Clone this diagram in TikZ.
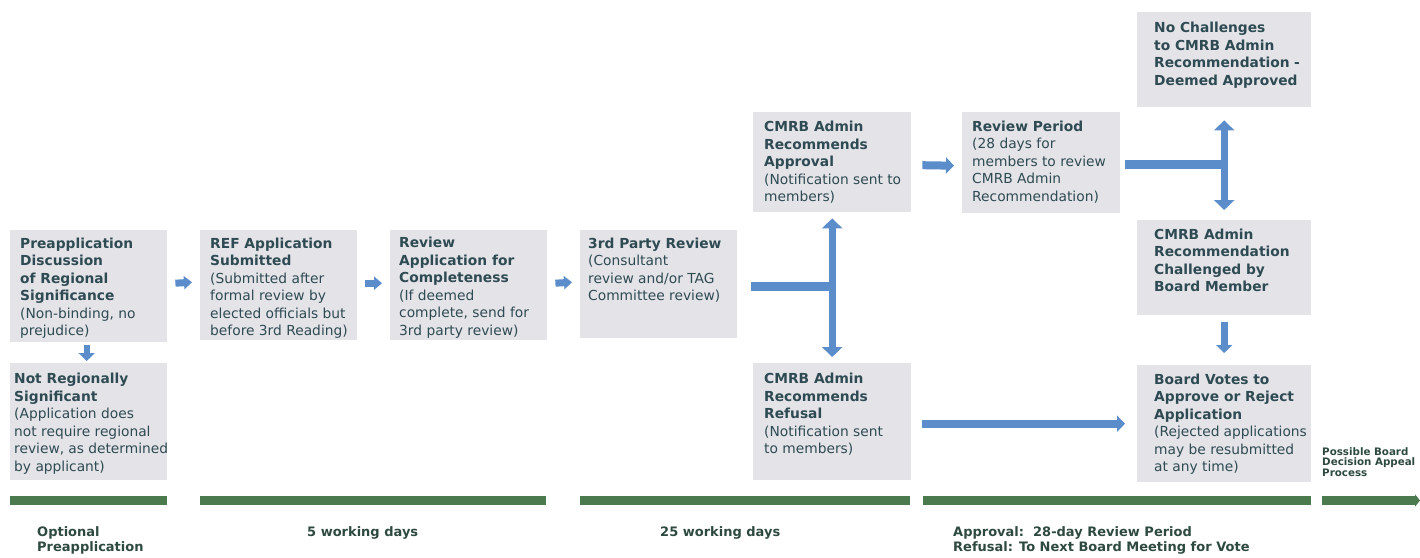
\documentclass[tikz,border=0pt]{standalone}
\usepackage{fontspec}
\setmainfont{DejaVu Sans}
\usetikzlibrary{arrows.meta}
\definecolor{boxg}{HTML}{E4E4E8}
\definecolor{txtc}{HTML}{2E4A52}
\definecolor{ablue}{HTML}{5B8DCB}
\definecolor{gbar}{HTML}{4A7A4E}
\definecolor{lblc}{HTML}{2E4A40}
\newcommand\bx[8]{\node[box, anchor=north west, inner xsep=#6pt, inner ysep=#7pt] (#1) at (#2,#3)
  {\parbox[t][\dimexpr #5pt-#7pt-#7pt\relax][t]{\dimexpr #4pt-#6pt-#6pt\relax}{\raggedright\rightskip=0pt plus 1fil minus 40pt\relax #8}};}
\begin{document}
\begin{tikzpicture}[x=1pt,y=-1pt,
  box/.style={fill=boxg, draw=none, text=txtc, font=\fontsize{13.8}{17.5}\selectfont},
  smallarr/.style={draw=ablue, line width=7pt, -{Triangle[width=13pt,length=8pt]}},
  bigarr/.style={draw=ablue, line width=8pt, -{Triangle[width=16pt,length=8pt]}},
  dblarr/.style={draw=ablue, line width=7pt, {Triangle[width=20pt,length=10pt]}-{Triangle[width=20pt,length=10pt]}},
  branch/.style={draw=ablue, line width=9pt},
  gline/.style={draw=gbar, line width=9pt},
  lbl/.style={anchor=north west, inner sep=0pt, align=left, text=lblc, font=\bfseries\fontsize{13}{15.5}\selectfont}]
\fill[white] (0,0) rectangle (1420,557);
\useasboundingbox (0,0) rectangle (1420,557);

\bx{pre}{10}{230}{157}{112}{10}{7.5}{\textbf{Preapplication\\Discussion\\of Regional\\Significance}\\(Non-binding, no\\prejudice)}
\bx{notreg}{10}{363}{157}{117}{4}{10}{\textbf{Not Regionally\\Significant}\\(Application does\\not require regional\\review, as determined\\by applicant)}
\bx{ref}{200}{230}{157}{110}{10}{7.5}{\textbf{REF Application\\Submitted}\\(Submitted after\\formal review by\\elected officials but\\before 3rd Reading)}
\bx{rev}{390}{230}{157}{110}{9}{7}{\textbf{Review\\Application for\\Completeness}\\(If deemed\\complete, send for\\3rd party review)}
\bx{third}{580}{230}{157}{108}{8}{7.5}{\textbf{3rd Party Review}\\(Consultant\\review and/or TAG\\Committee review)}
\bx{appr}{753}{112}{158}{100}{11}{9}{\textbf{CMRB Admin\\Recommends\\Approval}\\(Notification sent to\\members)}
\bx{period}{962}{112}{158}{101}{10}{8.5}{\textbf{Review Period}\\(28 days for\\members to review\\CMRB Admin\\Recommendation)}
\bx{refu}{753}{363}{158}{117}{11}{10}{\textbf{CMRB Admin\\Recommends\\Refusal}\\(Notification sent\\to members)}
\bx{nochal}{1137}{12}{174}{95}{17}{10}{\textbf{No Challenges\\to CMRB Admin\\Recommendation -\\Deemed Approved}}
\bx{chal}{1137}{220}{174}{95}{17}{8.5}{\textbf{CMRB Admin\\Recommendation\\Challenged by\\Board Member}}
\bx{votes}{1137}{365}{174}{117}{17}{8.5}{\textbf{Board Votes to\\Approve or Reject\\Application}\\(Rejected applications\\may be resubmitted\\at any time)}

\node[anchor=north west, inner sep=0pt, align=left, text=lblc, font=\bfseries\fontsize{10.3}{10.8}\selectfont] (appeal) at (1322,447) {Possible Board\\Decision Appeal\\Process};

% small arrows
\draw[smallarr] ([xshift=8pt,yshift=3pt]pre.east) -- ([xshift=-8pt,yshift=3pt]ref.west);
\draw[smallarr] ([xshift=8pt,yshift=2pt]ref.east) -- ([xshift=-8pt,yshift=2pt]rev.west);
\draw[smallarr] ([xshift=8pt,yshift=2pt]rev.east) -- ([xshift=-8pt,yshift=2pt]third.west);
\draw[draw=ablue, line width=6pt, -{Triangle[width=16pt,length=8pt]}] ([xshift=-2pt,yshift=-3pt]pre.south) -- ([xshift=-2pt,yshift=2pt]notreg.north);

% third party branch
\coordinate (j1) at (appr.south |- third.east);
\draw[branch] ([xshift=14pt,yshift=-2pt]third.east) -- ([yshift=-2pt]j1);
\draw[dblarr] ([yshift=-6pt]appr.south) -- ([yshift=6pt]refu.north);

% approval -> review period
\draw[bigarr] ([xshift=11pt,yshift=-3pt]appr.east) -- ([xshift=-8pt,yshift=-3pt]period.west);

% review period branch
\coordinate (j2) at (nochal.south |- period.east);
\draw[branch] ([xshift=5pt,yshift=-2pt]period.east) -- ([yshift=-2pt]j2);
\draw[dblarr] ([yshift=-13pt]nochal.south) -- ([yshift=10pt]chal.north);

% challenged -> votes
\draw[draw=ablue, line width=7pt, -{Triangle[width=16pt,length=8pt]}] ([yshift=-7pt]chal.south) -- ([yshift=12pt]votes.north);

% refusal -> votes
\coordinate (vin) at ([xshift=-12pt]votes.west |- refu.east);
\draw[bigarr] ([xshift=11pt,yshift=-2pt]refu.east) -- ([yshift=-2pt]vin);

% timeline bars
\coordinate (b1a) at (10,500.5);   \coordinate (b1b) at (167,500.5);
\coordinate (b2a) at (200,500.5);  \coordinate (b2b) at (546,500.5);
\coordinate (b3a) at (580,500.5);  \coordinate (b3b) at (910,500.5);
\coordinate (b4a) at (923,500.5);  \coordinate (b4b) at (1311,500.5);
\coordinate (b5a) at (1322,500.5); \coordinate (b5b) at (1420,500.5);
\draw[gline] (b1a) -- (b1b);
\draw[gline] (b2a) -- (b2b);
\draw[gline] (b3a) -- (b3b);
\draw[gline] (b4a) -- (b4b);
\draw[gline, -{Triangle[width=12pt,length=5pt]}] (b5a) -- (b5b);

% timeline labels
\node[lbl] (l1) at (37,526) {Optional\\Preapplication};
\node[lbl] (l2) at (307,526) {5 working days};
\node[lbl] (l3) at (660,526) {25 working days};
\node[lbl] (l4) at (953,526) {Approval:\ \ 28-day Review Period\\Refusal: To Next Board Meeting for Vote};
\end{tikzpicture}
\end{document}
